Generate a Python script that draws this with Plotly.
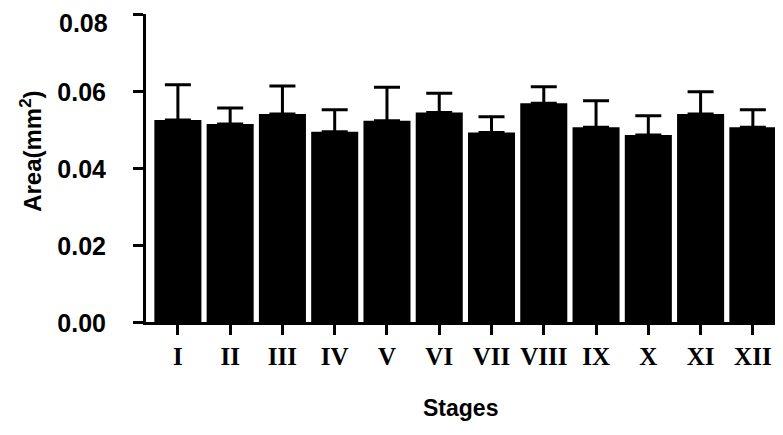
import plotly.graph_objects as go

stages = ["I", "II", "III", "IV", "V", "VI", "VII", "VIII", "IX", "X", "XI", "XII"]
area_mean = [0.0525, 0.0514, 0.0540, 0.0494, 0.0523, 0.0544, 0.0492, 0.0568, 0.0506, 0.0486, 0.0540, 0.0506]
area_upper = [0.0616, 0.0556, 0.0613, 0.0551, 0.0610, 0.0594, 0.0533, 0.0611, 0.0575, 0.0536, 0.0598, 0.0551]
y_ticks = [0.00, 0.02, 0.04, 0.06, 0.08]

err_plus = [u - m for u, m in zip(area_upper, area_mean)]
# top label is drawn as an annotation (it sits a little below its tick, as in the reference)
y_ticktext = [f"{v:.2f}" for v in y_ticks[:-1]] + [""]

tick_font = dict(family="Liberation Sans", size=25, color="black", weight="bold")

fig = go.Figure()
fig.add_trace(go.Bar(
    x=stages,
    y=area_mean,
    marker=dict(color="black", line=dict(width=0)),
    width=0.9,
    error_y=dict(type="data", symmetric=False, array=err_plus,
                 arrayminus=[0] * len(area_mean),
                 color="black", thickness=3, width=13),
    showlegend=False,
))

fig.update_layout(
    width=775, height=427,
    margin=dict(l=138, r=4, t=6, b=113),
    paper_bgcolor="white", plot_bgcolor="white",
    xaxis=dict(
        range=[-0.61, 11.5],
        automargin=False,
        showline=True, linecolor="black", linewidth=3,
        ticks="outside", ticklen=10, tickwidth=3, tickcolor="black",
        tickfont=dict(family="Liberation Serif", size=25, color="black", weight="bold"),
        showgrid=False, zeroline=False,
        ticklabelstandoff=0,
        ticklabeloverflow="allow",
    ),
    yaxis=dict(
        range=[0, 0.08],
        automargin=False,
        tickvals=y_ticks, ticktext=y_ticktext,
        showline=True, linecolor="black", linewidth=3,
        ticks="outside", ticklen=10, tickwidth=3, tickcolor="black",
        tickfont=tick_font,
        showgrid=False, zeroline=False,
        ticklabelstandoff=22,
        ticklabelshift=1,
        ticklabeloverflow="allow",
    ),
    annotations=[
        dict(text=f"{y_ticks[-1]:.2f}", xref="paper", yref="y",
             x=-0.0569, y=y_ticks[-1], xanchor="right", yanchor="middle",
             yshift=-9, showarrow=False, font=tick_font),
        dict(text="Stages", xref="paper", yref="paper", x=0.497, y=-0.28,
             yanchor="middle", showarrow=False,
             font=dict(family="Liberation Sans", size=23, color="black", weight="bold")),
        dict(text="Area(mm<sup>2</sup>)", xref="paper", yref="paper",
             x=-0.182, y=0.555, xanchor="center", yanchor="middle", textangle=-90,
             showarrow=False,
             font=dict(family="Liberation Sans", size=24, color="black", weight="bold")),
    ],
)

fig.write_html("out.html")
